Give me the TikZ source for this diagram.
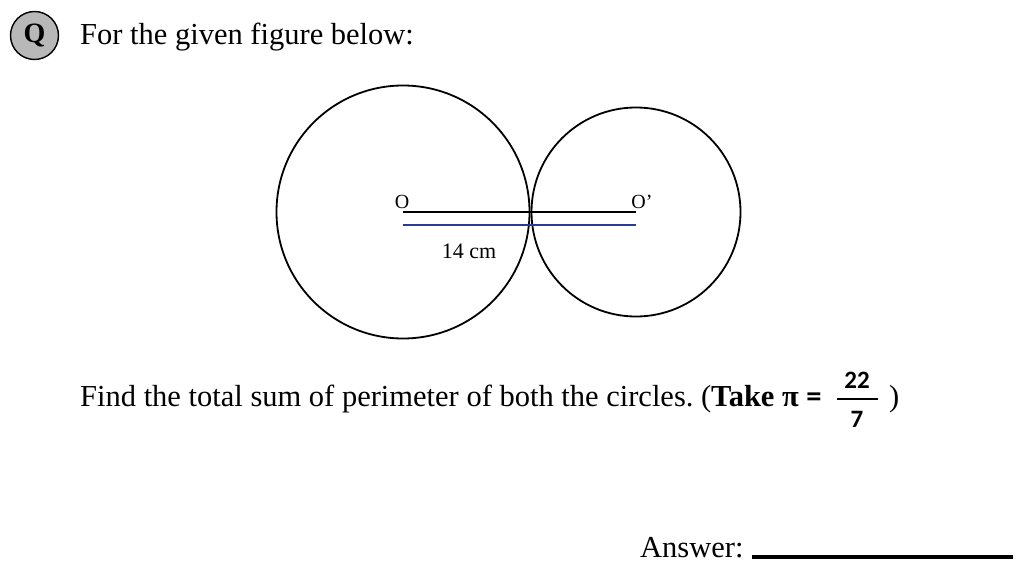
\documentclass[tikz,border=0pt]{standalone}
\usepackage{fontspec}
\setmainfont{Liberation Serif}
\newfontfamily\fracfont{Carlito}
\frenchspacing
\begin{document}
\begin{tikzpicture}[x=1pt,y=-1pt,
  txt/.style={inner sep=0pt,anchor=base west,font=\fontsize{30.5}{33}\selectfont},
  circ/.style={draw=black,line width=1.8pt},
  lbl/.style={inner sep=0pt,anchor=base,font=\fontsize{20}{22}\selectfont}]
\useasboundingbox (0,0) rectangle (1024,583);
\fill[white] (0,0) rectangle (1024,583);
% badge
\node[circle,draw=black,line width=1.4pt,fill=black!28,minimum size=48pt,inner sep=0pt,
  font=\fontsize{28}{30}\selectfont\bfseries] (badge) at (34.5,35.5) {Q};
\node[txt] (title) at (80,45) {For the given figure below:};
% circles
\coordinate (O) at (403,212);
\coordinate (O2) at (636,212);
\draw[circ] (O) circle (126.5);
\draw[circ] (O2) circle (104.5);
\draw[line width=2.2pt] (O) -- (O2);
\coordinate (B1) at (403,225);
\coordinate (B2) at (636,225);
\draw[line width=1.8pt,draw={rgb,255:red,40;green,60;blue,150}] (B1) -- (B2);
\node[lbl] (lo) at (402,208) {O};
\node[lbl] (lo2) at (642,208) {O’};
\node[inner sep=0pt,anchor=base,font=\fontsize{22}{24}\selectfont] (len) at (469,258) {14 cm};
% question
\node[txt] (q) at (80,406) {Find the total sum of perimeter of both the circles. (\textbf{Take π} {\fracfont\bfseries =}};
\node[inner sep=0pt,anchor=base,font=\fontsize{25}{27}\selectfont\fracfont\bfseries] (num) at (857,388) {22};
\node[inner sep=0pt,anchor=base,font=\fontsize{25}{27}\selectfont\fracfont\bfseries] (den) at (857,427) {7};
\coordinate (f1) at (837,399);
\coordinate (f2) at (878,399);
\draw[line width=1.3pt] (f1) -- (f2);
\node[txt] (cp) at (889,406) {)};
% answer
\node[txt] (ans) at (640,557) {Answer:};
\coordinate (a1) at (752,557);
\coordinate (a2) at (1013,557);
\draw[line width=3.5pt] (a1) -- (a2);
\end{tikzpicture}
\end{document}
